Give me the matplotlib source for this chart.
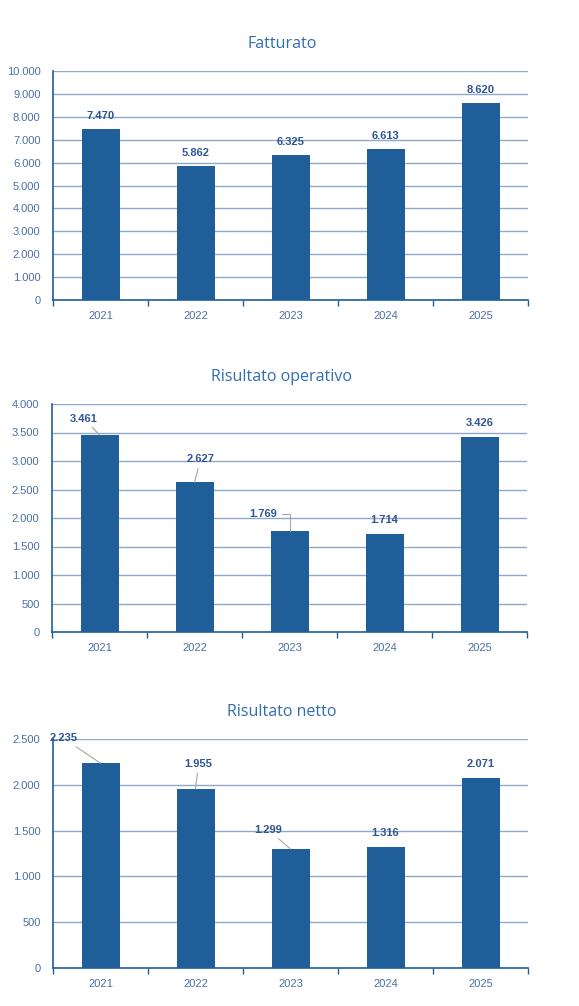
import matplotlib
matplotlib.use("Agg")
import matplotlib.pyplot as plt
from matplotlib.ticker import FuncFormatter, MultipleLocator

# data (thousands of euro)
years = ["2021", "2022", "2023", "2024", "2025"]
fatturato = [7470, 5862, 6325, 6613, 8620]
risultato_operativo = [3461, 2627, 1769, 1714, 3426]
risultato_netto = [2235, 1955, 1299, 1316, 2071]

BAR = "#1F5E99"
GRID = "#8EA9C8"
SPINE = "#1F5E99"
TICK = "#4A6FA8"
TITLE = "#2E6DB4"
LABEL = "#2F5597"
LEADER = "#A6A6A6"


def fmt_it(v, pos=None):
    return f"{int(v):,}".replace(",", ".")


def draw_chart(ax, title, values, ymax, step, offsets, styles):
    x = list(range(len(years)))
    ax.bar(x, values, width=0.4, color=BAR, zorder=3)
    ax.set_xlim(-0.5, len(years) - 0.5)
    ax.set_ylim(0, ymax)
    ax.yaxis.set_major_locator(MultipleLocator(step))
    ax.yaxis.set_major_formatter(FuncFormatter(fmt_it))
    ax.grid(axis="y", color=GRID, lw=1, zorder=0)
    for s in ["top", "right"]:
        ax.spines[s].set_visible(False)
    for s in ["left", "bottom"]:
        ax.spines[s].set_color(SPINE)
        ax.spines[s].set_linewidth(1.2)
    # category boundaries as ticks, labels in the middle
    ax.set_xticks([i - 0.5 for i in range(len(years) + 1)])
    ax.set_xticklabels([])
    ax.set_xticks(x, minor=True)
    ax.set_xticklabels(years, minor=True)
    ax.tick_params(axis="x", which="major", length=4, color=SPINE, width=1)
    ax.tick_params(axis="x", which="minor", length=0, pad=8, labelsize=8,
                   labelcolor=TICK)
    ax.tick_params(axis="y", length=0, pad=9, labelsize=8, labelcolor=TICK)
    for lab in ax.get_xticklabels(minor=True) + ax.get_yticklabels():
        lab.set_family("Liberation Sans")

    for i, v in enumerate(values):
        dx, dy = offsets[i]
        style = styles[i]
        props = None
        if style == "line":
            props = dict(arrowstyle="-", color=LEADER, lw=0.8,
                         shrinkA=1, shrinkB=0)
        elif style == "angle":
            props = dict(arrowstyle="-", color=LEADER, lw=0.8,
                         shrinkA=1, shrinkB=0,
                         connectionstyle="angle,angleA=0,angleB=90,rad=0")
        ax.annotate(fmt_it(v), xy=(i, v), xytext=(dx, dy),
                    textcoords="offset pixels", ha="center", va="center",
                    fontsize=8, fontweight="bold", color=LABEL,
                    family="Liberation Sans", arrowprops=props, zorder=5,
                    annotation_clip=False)

    pos = ax.get_position()
    fig.text(0.487, pos.y1 + 27 / 1006, title, ha="center", va="center",
             fontsize=11.5, color=TITLE, family="Open Sans")


fig = plt.figure(figsize=(5.79, 10.06), dpi=100)

ax1 = fig.add_axes([53 / 579, 706 / 1006, 475 / 579, 229 / 1006])
ax2 = fig.add_axes([52 / 579, 374 / 1006, 475 / 579, 228 / 1006])
ax3 = fig.add_axes([53 / 579, 38 / 1006, 475 / 579, 229 / 1006])

draw_chart(ax1, "Fatturato", fatturato, 10000, 1000,
           [(0, 13)] * 5, [None] * 5)
draw_chart(ax2, "Risultato operativo", risultato_operativo, 4000, 500,
           [(-16, 16), (6, 23), (-26, 17), (0, 14), (0, 14)],
           ["line", "line", "angle", None, None])
draw_chart(ax3, "Risultato netto", risultato_netto, 2500, 500,
           [(-37, 25), (3, 25), (-22, 19), (0, 14), (0, 14)],
           ["line", "line", "line", None, None])

fig.savefig("out.png", dpi=100)
